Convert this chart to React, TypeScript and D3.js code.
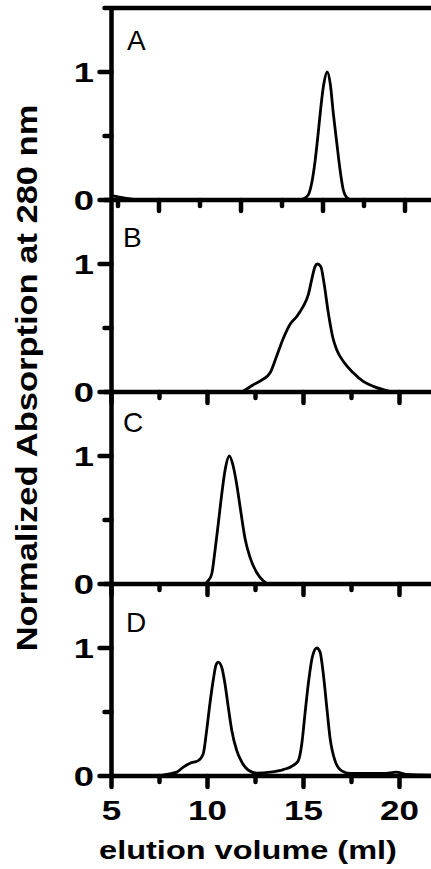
import React from "react";
import * as d3 from "d3";

const W = 431;
const H = 869;

// ---- data ----
const panelLabels = ["A", "B", "C", "D"];
const yTickValues = [0, 0.5, 1, 1.5];
const yLabelValues = [0, 1];
const xTickValues = [5, 7.5, 10, 12.5, 15, 17.5, 20, 22.5];
const xLabelValues = [5, 10, 15, 20];
const panelATickValues = [2.5, 5, 7.5, 10, 12.5, 15, 17.5, 20, 22.5];

const volumeA = [5.0, 5.7, 6.5, 14.6, 15.0, 15.25, 15.45, 15.6, 15.75, 15.9, 16.05, 16.24, 16.4, 16.55, 16.73, 16.9, 17.07, 17.25, 17.5, 22.5];
const absorbanceA = [0.035, 0.015, 0, 0, 0.01, 0.04, 0.15, 0.3, 0.5, 0.72, 0.9, 1.0, 0.9, 0.68, 0.45, 0.24, 0.08, 0.02, 0, 0];

const volumeB = [11.8, 12.39, 12.9, 13.26, 13.6, 13.95, 14.3, 14.65, 14.99, 15.25, 15.43, 15.6, 15.72, 15.9, 16.07, 16.29, 16.52, 16.73, 17.07, 17.59, 18.11, 18.64, 19.16, 19.5, 20.0];
const absorbanceB = [0, 0.057, 0.1, 0.15, 0.28, 0.42, 0.53, 0.59, 0.67, 0.76, 0.88, 0.98, 1.0, 0.98, 0.85, 0.62, 0.43, 0.33, 0.24, 0.15, 0.083, 0.044, 0.018, 0.005, 0];

const volumeC = [5, 9.8, 10.04, 10.22, 10.39, 10.56, 10.74, 10.91, 11.14, 11.34, 11.52, 11.73, 11.95, 12.21, 12.56, 12.9, 13.17, 22.5];
const absorbanceC = [0, 0, 0.026, 0.078, 0.26, 0.47, 0.7, 0.885, 1.0, 0.92, 0.78, 0.57, 0.36, 0.21, 0.09, 0.026, 0, 0];

const volumeD = [7.4, 7.87, 8.4, 8.74, 9.09, 9.52, 9.78, 9.96, 10.13, 10.3, 10.44, 10.56, 10.74, 10.91, 11.08, 11.26, 11.52, 11.78, 12.13, 12.56, 13.26, 13.95, 14.47, 14.73, 14.91, 15.08, 15.25, 15.46, 15.69, 15.86, 16.03, 16.21, 16.38, 16.64, 16.99, 17.42, 19.16, 19.85, 20.37, 22.5];
const absorbanceD = [0, 0.013, 0.03, 0.07, 0.1, 0.12, 0.175, 0.36, 0.57, 0.75, 0.865, 0.89, 0.85, 0.72, 0.54, 0.36, 0.2, 0.11, 0.045, 0.023, 0.03, 0.05, 0.083, 0.12, 0.25, 0.49, 0.72, 0.93, 1.0, 0.97, 0.8, 0.54, 0.3, 0.12, 0.04, 0.02, 0.02, 0.03, 0.013, 0.005];

const volumes = [volumeA, volumeB, volumeC, volumeD];
const absorbances = [absorbanceA, absorbanceB, absorbanceC, absorbanceD];

// ---- layout ----
const plotLeft = 111.5;
const pxPerMl = 19.2;
const panelTop0 = 8;
const panelH = 192;
const labelOffsets: [number, number][] = [[127, 42], [123, 47], [123, 39.5], [126, 48]];
const FONT = "'Liberation Sans', Arial, Helvetica, sans-serif";

export default function App() {
  const x = d3.scaleLinear().domain([5, 22.5]).range([plotLeft, plotLeft + 17.5 * pxPerMl]);
  const xTickA = d3.scaleLinear().domain([2.5, 22.5]).range([118, 446]);
  const xMax = x(22.5);

  const panels = panelLabels.map((lab, i) => {
    const top = panelTop0 + i * panelH;
    const y = d3.scaleLinear().domain([0, 1.5]).range([top + panelH, top]);
    const pts: [number, number][] = volumes[i].map((v, j) => [v, absorbances[i][j]]);
    const line = d3
      .line<[number, number]>()
      .x((d) => x(d[0]))
      .y((d) => y(d[1]))
      .curve(d3.curveMonotoneX);
    return { lab, i, top, y, path: line(pts) || "" };
  });

  const axisW = 4.5;
  const tickW = 4.5;

  const xTickPath = (p: any) => {
    const y0 = p.y(0);
    const list = p.i === 0
      ? panelATickValues.map((v) => ({ px: xTickA(v), major: v % 5 === 0 }))
      : xTickValues.map((v) => ({ px: x(v), major: v % 5 === 0 }));
    return list.map((t) => `M${t.px},${y0}V${y0 + (t.major ? 11 : 6)}`).join("");
  };

  return (
    <svg
      width={W}
      height={H}
      viewBox={`0 0 ${W} ${H}`}
      style={{ position: "absolute", left: 0, top: 0, display: "block", background: "#fff" }}
    >
      <rect x={0} y={0} width={W} height={H} fill="#fff" />
      {panels.map((p) => {
        const y0 = p.y(0);
        return (
          <g key={p.lab}>
            <path d={p.path} fill="none" stroke="#000" strokeWidth={2.8} strokeLinejoin="round" />
            {yTickValues.map((v) => {
              const major = v % 1 === 0;
              return (
                <line
                  key={"yt" + v}
                  x1={plotLeft - (major ? 12 : 7)}
                  x2={plotLeft}
                  y1={p.y(v)}
                  y2={p.y(v)}
                  stroke="#000"
                  strokeWidth={tickW}
                  strokeLinecap="round"
                />
              );
            })}
            <line x1={plotLeft} x2={xMax} y1={y0} y2={y0} stroke="#000" strokeWidth={axisW} />
            <path d={xTickPath(p)} fill="none" stroke="#000" strokeWidth={tickW} strokeLinecap="round" />
            {yLabelValues.map((v) => (
              <text
                key={"yl" + v}
                transform={`translate(94, ${p.y(v)}) scale(1.3,1)`}
                textAnchor="end"
                dy="0.36em"
                fontFamily={FONT}
                fontWeight="bold"
                fontSize={28}
                fill="#000"
              >
                {String(v)}
              </text>
            ))}
            <text
              x={labelOffsets[p.i][0]}
              y={p.top + labelOffsets[p.i][1]}
              fontFamily={FONT}
              fontSize={28}
              fill="#000"
            >
              {p.lab}
            </text>
          </g>
        );
      })}
      <line x1={plotLeft} x2={xMax} y1={panels[0].y(1.5)} y2={panels[0].y(1.5)} stroke="#000" strokeWidth={axisW} />
      <line
        x1={plotLeft}
        x2={plotLeft}
        y1={panels[0].y(1.5) - 2}
        y2={panels[3].y(0) + 2}
        stroke="#000"
        strokeWidth={axisW}
      />
      {xLabelValues.map((v) => (
        <text
          key={"xl" + v}
          transform={`translate(${x(v)}, 820) scale(1.25,1)`}
          textAnchor="middle"
          fontFamily={FONT}
          fontWeight="bold"
          fontSize={28}
          fill="#000"
        >
          {String(v)}
        </text>
      ))}
      <text
        transform="translate(248, 859) scale(1.3,1)"
        textAnchor="middle"
        fontFamily={FONT}
        fontWeight="bold"
        fontSize={25}
        fill="#000"
      >
        elution volume (ml)
      </text>
      <text
        transform="translate(37, 378) rotate(-90) scale(1.15,1)"
        textAnchor="middle"
        fontFamily={FONT}
        fontWeight="bold"
        fontSize={30}
        fill="#000"
      >
        Normalized Absorption at 280 nm
      </text>
    </svg>
  );
}
